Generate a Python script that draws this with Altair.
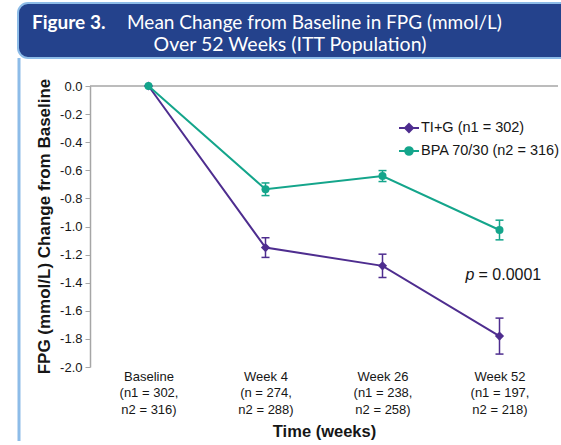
import altair as alt
import pandas as pd

# ---------------- data ----------------
categories = ["Baseline", "Week 4", "Week 26", "Week 52"]
label_lines = [
    ["Baseline", "(n1 = 302,", "n2 = 316)"],
    ["Week 4", "(n = 274,", "n2 = 288)"],
    ["Week 26", "(n1 = 238,", "n2 = 258)"],
    ["Week 52", "(n1 = 197,", "n2 = 218)"],
]
series_names = ["TI+G (n1 = 302)", "BPA 70/30 (n2 = 316)"]
tig_mean = [0.0, -1.15, -1.28, -1.78]
tig_err = [0.0, 0.07, 0.083, 0.128]
bpa_mean = [0.0, -0.735, -0.641, -1.025]
bpa_err = [0.0, 0.045, 0.039, 0.07]
y_ticks = [round(-0.2 * i, 1) + 0.0 for i in range(11)]

p_label = ["p"]
p_value = ["= 0.0001"]
p_week = ["Week 52"]
p_y = [-1.38]

title_bold = "Figure 3."
title_line1 = "Mean Change from Baseline in FPG (mmol/L)"
title_line2 = "Over 52 Weeks (ITT Population)"
y_title = "FPG (mmol/L) Change from Baseline"
x_title = "Time (weeks)"

# ---------------- styles ----------------
PURPLE = "#4E2D8F"
TEAL = "#14A58B"
HEADER = "#24428C"
BORDER = "#8DBCE8"
AXIS = "#A6A6A6"
TEXT = "#161616"
FONT = "Liberation Sans"
HFONT = "Lato"


def make_df(mean, err, name):
    return pd.DataFrame({
        "week": categories,
        "mean": mean,
        "err": err,
        "lo": [m - e for m, e in zip(mean, err)],
        "hi": [m + e for m, e in zip(mean, err)],
        "series": name,
    })


label_expr = ""
for cat, lines in zip(categories, label_lines):
    arr = "[" + ",".join("'" + s + "'" for s in lines) + "]"
    label_expr += f"datum.value == '{cat}' ? {arr} : "
label_expr += "datum.label"

x_axis = alt.Axis(
    title=x_title, labelExpr=label_expr, labelAngle=0, domain=False, ticks=False,
    labelBaseline="top", labelPadding=3, labelLineHeight=16.5, labelFontSize=13,
    labelColor=TEXT, labelFont=FONT, titleFont=FONT, titleFontSize=16.5,
    titleFontWeight="bold", titleColor=TEXT, titleY=64, titleBaseline="middle",
)
x_enc = alt.X("week:O", sort=categories,
              scale=alt.Scale(type="point", padding=0.5, domain=categories),
              axis=x_axis)

y_axis = alt.Axis(
    title=y_title, values=y_ticks, labelOverlap=False, tickCount=11,
    labelExpr="replace(format(datum.value, '.1f'), '\u2212', '-')",
    grid=False, domainColor=AXIS, domainWidth=1.5, tickColor=AXIS, tickSize=5,
    tickWidth=1, labelPadding=3, labelFontSize=13, labelColor=TEXT, labelFont=FONT,
    titleFont=FONT, titleFontSize=17, titleFontWeight="bold", titleColor=TEXT,
    titleAngle=-90, titleX=-46, titleY=140, titleAlign="center", titleBaseline="middle",
)
y_scale = alt.Scale(domain=[-2, 0], nice=False, zero=False)


def series_layer(df, color, point_shape, point_size, legend_path, legend_y):
    base = alt.Chart(df)
    line = base.mark_line(color=color, strokeWidth=2).encode(
        x=x_enc, y=alt.Y("mean:Q", scale=y_scale, axis=y_axis))
    errs = base.transform_filter("datum.err > 0")
    rule = errs.mark_rule(color=color, strokeWidth=1.5).encode(
        x=x_enc, y=alt.Y("lo:Q", scale=y_scale, axis=y_axis), y2="hi:Q")
    cap_lo = errs.mark_tick(color=color, size=8, thickness=1.5, opacity=1).encode(
        x=x_enc, y=alt.Y("lo:Q", scale=y_scale, axis=y_axis))
    cap_hi = errs.mark_tick(color=color, size=8, thickness=1.5, opacity=1).encode(
        x=x_enc, y=alt.Y("hi:Q", scale=y_scale, axis=y_axis))
    pts = base.mark_point(filled=True, shape=point_shape, size=point_size, opacity=1).encode(
        x=x_enc, y=alt.Y("mean:Q", scale=y_scale, axis=y_axis),
        color=alt.Color("series:N",
                        scale=alt.Scale(domain=[df["series"].iloc[0]], range=[color]),
                        legend=alt.Legend(
                            title=None, orient="none", legendX=308, legendY=legend_y,
                            symbolType=legend_path, symbolSize=400,
                            symbolStrokeWidth=2, symbolStrokeColor=color,
                            symbolFillColor=color, symbolOpacity=1,
                            labelFont=FONT, labelFontSize=14.5, labelColor=TEXT,
                            labelOffset=1, padding=0)))
    return alt.layer(line, rule, cap_lo, cap_hi, pts)


diamond_path = "M-1,0H1M0,-0.4L0.4,0L0,0.4L-0.4,0Z"
circle_path = "M-1,0H1M0.38,0A0.38,0.38,0,1,1,-0.38,0A0.38,0.38,0,1,1,0.38,0Z"

tig = series_layer(make_df(tig_mean, tig_err, series_names[0]), PURPLE, "diamond", 85,
                   diamond_path, 31)
bpa = series_layer(make_df(bpa_mean, bpa_err, series_names[1]), TEAL, "circle", 64,
                   circle_path, 54)

one = pd.DataFrame({"k": [0]})

header = alt.Chart(one).mark_rect(
    fill=HEADER, stroke=BORDER, strokeWidth=2,
    cornerRadiusTopLeft=10, cornerRadiusBottomLeft=10,
).encode(x=alt.value(-72), x2=alt.value(490), y=alt.value(-83), y2=alt.value(-28))

left_border = alt.Chart(one).mark_rule(color=BORDER, strokeWidth=3).encode(
    x=alt.value(-71), y=alt.value(-28), y2=alt.value(355))

h_bold = alt.Chart(pd.DataFrame({"t": [title_bold]})).mark_text(
    font=HFONT, fontSize=19, fontWeight="bold", color="white", align="left",
    baseline="alphabetic").encode(x=alt.value(-58), y=alt.value(-57), text="t:N")
h_line1 = alt.Chart(pd.DataFrame({"t": [title_line1]})).mark_text(
    font=HFONT, fontSize=19, color="white", align="left",
    baseline="alphabetic").encode(x=alt.value(37), y=alt.value(-57), text="t:N")
h_line2 = alt.Chart(pd.DataFrame({"t": [title_line2]})).mark_text(
    font=HFONT, fontSize=19.5, color="white", align="center",
    baseline="alphabetic").encode(x=alt.value(200), y=alt.value(-35), text="t:N")

# category axis line drawn across the top of the plot (where y = 0)
zero_line = alt.Chart(one).mark_rule(color=AXIS, strokeWidth=1.5).encode(
    x=alt.value(0), x2=alt.value(468), y=alt.value(0))

p_df = pd.DataFrame({"week": p_week, "y": p_y, "p": p_label, "v": p_value})
p_italic = alt.Chart(p_df).mark_text(
    font=FONT, fontSize=16, fontStyle="italic", color=TEXT, align="right",
    baseline="alphabetic", dx=-25).encode(
    x=x_enc, y=alt.Y("y:Q", scale=y_scale, axis=y_axis), text="p:N")
p_text = alt.Chart(p_df).mark_text(
    font=FONT, fontSize=16, color=TEXT, align="left",
    baseline="alphabetic", dx=-21).encode(
    x=x_enc, y=alt.Y("y:Q", scale=y_scale, axis=y_axis), text="v:N")

chart = alt.layer(
    header, left_border, h_bold, h_line1, h_line2, zero_line, tig, bpa, p_italic, p_text
).resolve_scale(color="independent").properties(
    width=468, height=281,
    autosize=alt.AutoSizeParams(type="none"),
    padding={"left": 90, "top": 86, "right": 3, "bottom": 78},
    background="white",
).configure_view(stroke=None).configure_axisY(labelOverlap=False)

chart.save("out.html", embed_options={"renderer": "svg", "actions": False})
